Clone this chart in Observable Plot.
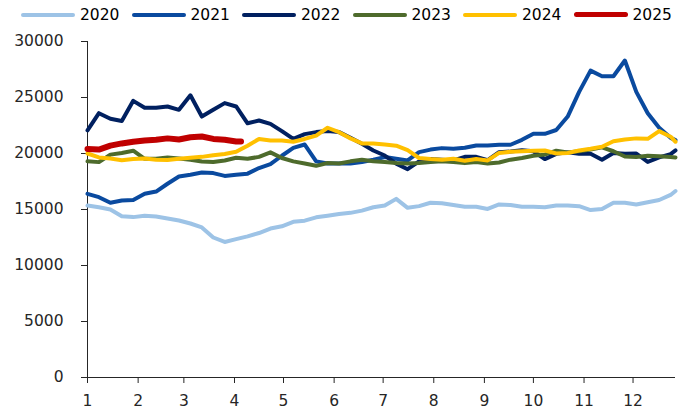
<!DOCTYPE html>
<html><head><meta charset="utf-8">
<script src="https://cdn.jsdelivr.net/npm/d3@7"></script>
<script src="https://cdn.jsdelivr.net/npm/@observablehq/plot@0.6"></script>
<style>
html,body{margin:0;padding:0;background:#fff;}
body{width:686px;height:416px;overflow:hidden;font-family:"DejaVu Sans",sans-serif;}
#legend{position:relative;height:30px;width:686px;}
.item{position:absolute;top:0;height:29px;display:flex;align-items:center;font-size:15.5px;color:#000;white-space:nowrap;}
.sw{width:54px;border-radius:3px;margin-right:5px;}
#chart svg{display:block;}
</style></head><body>
<div id="legend"></div><div id="chart"></div>
<script>
// Day of year sample points (weekly)
const days = [0,7,14,21,28,35,42,49,56,63,70,77,84,91,98,105,112,119,126,133,140,147,154,161,168,175,182,189,196,203,210,217,224,231,238,245,252,259,266,273,280,287,294,301,308,315,322,329,336,343,350,357,360];
const days2025 = [0,7,14,21,28,35,42,49,56,63,70,77,84,91,94];

const v2020 = [15350,15200,15000,14400,14320,14450,14380,14200,14020,13750,13400,12500,12100,12350,12600,12900,13300,13500,13900,14000,14300,14450,14600,14700,14900,15200,15350,15950,15150,15300,15600,15550,15400,15250,15250,15050,15450,15400,15250,15250,15210,15350,15350,15300,14950,15050,15600,15600,15450,15650,15850,16300,16650];
const v2021 = [16400,16100,15600,15800,15850,16400,16600,17300,17950,18100,18300,18250,18000,18100,18200,18700,19050,19800,20500,20800,19300,19100,19100,19100,19230,19440,19680,19530,19380,20120,20350,20480,20420,20510,20720,20720,20780,20780,21220,21760,21760,22100,23300,25500,27400,26900,26900,28300,25500,23600,22300,21400,21200];
const v2022 = [22060,23600,23100,22900,24700,24080,24080,24200,23900,25200,23300,23900,24500,24200,22700,22950,22650,22000,21300,21730,21910,22000,21910,21400,20870,20270,19820,19100,18600,19300,19500,19440,19380,19700,19700,19400,20120,20180,20300,20200,19500,19970,20100,19970,19970,19450,20050,19970,20000,19250,19650,19950,20270];
const v2023 = [19300,19230,19900,20050,20250,19530,19530,19650,19550,19450,19290,19250,19380,19620,19530,19700,20100,19600,19300,19100,18900,19150,19100,19300,19450,19300,19250,19150,19100,19150,19250,19300,19230,19140,19230,19100,19200,19450,19600,19800,19900,20250,20100,20200,20350,20550,20200,19730,19680,19800,19750,19680,19650];
const v2024 = [20000,19650,19550,19400,19500,19550,19450,19420,19530,19620,19700,19850,19950,20150,20700,21300,21160,21160,21050,21300,21600,22300,21900,21350,20900,20900,20800,20700,20300,19600,19500,19450,19530,19350,19500,19380,20050,20150,20210,20250,20270,20000,20050,20270,20420,20600,21100,21250,21350,21310,22000,21500,21050];
const v2025 = [20400,20350,20700,20900,21050,21160,21220,21350,21250,21450,21520,21300,21220,21070,21070];

const years = ["2020","2021","2022","2023","2024","2025"];
const colors = ["#9DC3E6","#0A4A9F","#002060","#4E6B2C","#FFC000","#C00000"];
const widths = [4,4,4,4,4,6];
const seriesValues = [v2020,v2021,v2022,v2023,v2024,v2025];
const seriesDays = [days,days,days,days,days,days2025];

const monthStarts = [0,31,59,90,120,151,181,212,243,273,304,334];
const monthLabels = ["1","2","3","4","5","6","7","8","9","10","11","12"];
const yTicks = [0,5000,10000,15000,20000,25000,30000];

// Legend
const legend = document.getElementById("legend");
years.forEach((y, i) => {
  const item = document.createElement("div");
  item.className = "item";
  item.style.left = (21 + 110.5 * i) + "px";
  const sw = document.createElement("div");
  sw.className = "sw";
  sw.style.height = (i === 5 ? 5 : 4) + "px";
  sw.style.background = colors[i];
  const t = document.createElement("span");
  t.textContent = y;
  item.appendChild(sw); item.appendChild(t);
  legend.appendChild(item);
});

const lineMarks = seriesValues.map((vals, i) => {
  const rows = vals.map((v, j) => ({day: seriesDays[i][j], value: v}));
  return Plot.line(rows, {x: "day", y: "value", stroke: colors[i], strokeWidth: widths[i], strokeLinejoin: "round", strokeLinecap: "round"});
});

const chart = Plot.plot({
  width: 686, height: 386,
  marginLeft: 87, marginRight: 11, marginTop: 11, marginBottom: 39,
  style: {fontFamily: '"DejaVu Sans", sans-serif', fontSize: "15.5px", color: "#262626", background: "#fff", overflow: "visible"},
  x: {domain: [0, 360], ticks: monthStarts, tickFormat: d => monthLabels[monthStarts.indexOf(d)], tickSize: 6, tickPadding: 11, label: null},
  y: {domain: [0, 30000], ticks: yTicks, tickFormat: d3.format("d"), tickSize: 6, tickPadding: 18, label: null},
  marks: [
    Plot.ruleY([0], {stroke: "#262626"}),
    Plot.ruleX([0], {stroke: "#262626"}),
    ...lineMarks
  ]
});
document.getElementById("chart").appendChild(chart);
</script>
</body></html>
